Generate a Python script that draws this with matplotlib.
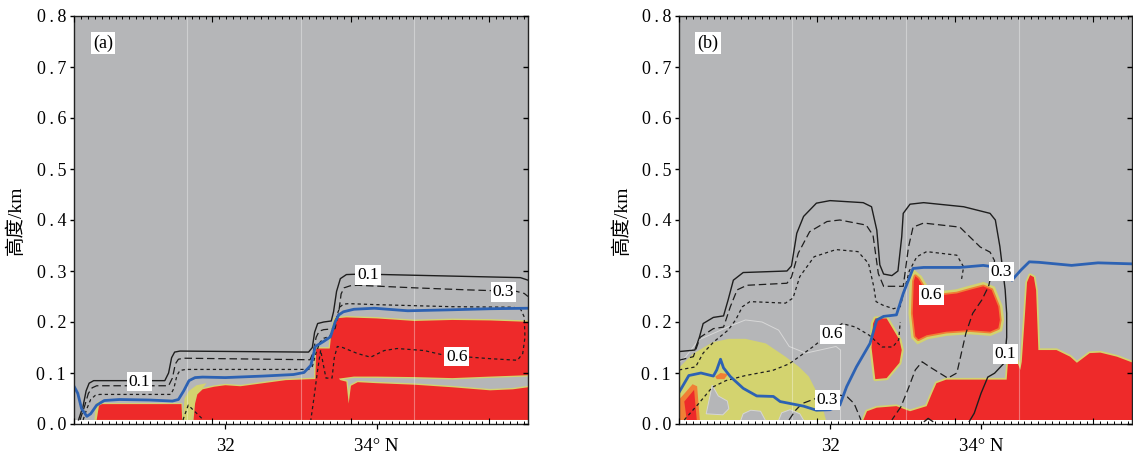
import numpy as np
import matplotlib
matplotlib.use("Agg")
import matplotlib.pyplot as plt

plt.rcParams['font.family'] = ['Liberation Serif', 'Noto Sans CJK SC']
plt.rcParams['axes.linewidth'] = 1.0

# ------------------------------------------------------------------
# Axis data
y_ticks = [0.0, 0.1, 0.2, 0.3, 0.4, 0.5, 0.6, 0.7, 0.8]
y_ticklabels = ['0\u2009.\u20090', '0\u2009.\u20091', '0\u2009.\u20092', '0\u2009.\u20093',
                '0\u2009.\u20094', '0\u2009.\u20095', '0\u2009.\u20096', '0\u2009.\u20097',
                '0\u2009.\u20098']
x_ticks = [32, 34]
x_ticklabels = ['32', '34\u00b0 N']
grid_lat = [31.5, 33.0, 34.5]
inner_major_lat = [30.0, 31.83, 33.66, 35.49]
inner_minor_step = 0.0915
panel_labels = ['(a)', '(b)']
ylabel_text = '高度/km'

# ------------------------------------------------------------------
# Panel (a)
a_c1_lat = [30.06, 30.12, 30.16, 30.2, 30.26, 31.2, 31.25, 31.29, 31.33, 31.4, 33.1, 33.15, 33.18,
            33.22, 33.3, 33.4, 33.43, 33.47, 33.52, 33.6, 33.8, 35.9, 36.0]
a_c1_h = [0.008, 0.035, 0.065, 0.08, 0.085, 0.085, 0.1, 0.13, 0.141, 0.143, 0.141, 0.15, 0.18,
          0.197, 0.2, 0.202, 0.22, 0.26, 0.285, 0.293, 0.294, 0.287, 0.282]
a_c3_lat = [30.08, 30.14, 30.19, 30.24, 30.3, 31.25, 31.3, 31.34, 31.38, 31.45, 33.12, 33.16, 33.2,
            33.24, 33.3, 33.45, 33.5, 33.53, 33.57, 33.65, 33.75, 34.5, 35.2, 35.85, 35.95, 36.0]
a_c3_h = [0.008, 0.035, 0.06, 0.071, 0.075, 0.075, 0.09, 0.118, 0.127, 0.129, 0.126, 0.14, 0.17,
          0.182, 0.185, 0.187, 0.22, 0.255, 0.267, 0.271, 0.272, 0.267, 0.263, 0.26, 0.256, 0.25]
a_c6_lat = [30.12, 30.17, 30.22, 30.28, 30.34, 31.28, 31.32, 31.36, 31.4, 31.48, 33.1, 33.15, 33.2,
            33.25, 33.3, 33.38, 33.44, 33.49, 33.52, 33.56, 33.63, 34.0, 35.0, 35.8, 35.9, 35.95,
            35.96, 35.93, 35.86, 35.51, 35.24, 34.89, 34.63, 34.27, 34.1, 33.92, 33.75, 33.55, 33.48,
            33.44, 33.41, 33.33, 33.29, 33.26, 33.22, 33.17, 33.13]
a_c6_h = [0.008, 0.03, 0.048, 0.056, 0.058, 0.058, 0.07, 0.095, 0.105, 0.107, 0.107, 0.113, 0.14,
          0.16, 0.168, 0.172, 0.19, 0.22, 0.23, 0.235, 0.236, 0.234, 0.23, 0.229, 0.226, 0.21,
          0.17, 0.138, 0.125, 0.128, 0.131, 0.135, 0.144, 0.148, 0.144, 0.131, 0.138, 0.15, 0.152,
          0.13, 0.09, 0.09, 0.12, 0.145, 0.106, 0.05, 0.008]
a_c6v_lat = [31.44, 31.51, 31.71]
a_c6v_h = [0.008, 0.037, 0.008]
a_blue_lat = [30.0, 30.05, 30.1, 30.17, 30.22, 30.3, 30.4, 30.6, 31.0, 31.3, 31.38, 31.45, 31.52,
              31.6, 31.7, 32.0, 32.5, 32.9, 33.04, 33.13, 33.19, 33.3, 33.39, 33.45, 33.5, 33.56,
              33.7, 33.97, 34.41, 35.0, 35.5, 36.0]
a_blue_h = [0.074, 0.06, 0.03, 0.015, 0.02, 0.037, 0.046, 0.048, 0.047, 0.045, 0.048, 0.065, 0.085,
            0.091, 0.092, 0.091, 0.094, 0.097, 0.101, 0.115, 0.152, 0.162, 0.171, 0.2, 0.214, 0.22,
            0.225, 0.227, 0.222, 0.224, 0.226, 0.227]
a_red1_lat = [30.3, 30.33, 30.37, 31.42, 31.43]
a_red1_h = [0.008, 0.036, 0.039, 0.039, 0.008]
a_red2_lat = [31.58, 31.6, 31.63, 31.7, 31.85, 32.0, 32.2, 32.5, 32.8, 33.15, 33.19, 33.2, 33.38,
              33.4, 33.45, 33.6, 34.0, 34.5, 35.0, 35.5, 36.05, 36.05, 35.5, 35.0, 34.5, 34.0, 33.7,
              33.55, 33.5, 33.52, 33.6, 33.63, 33.66, 33.75, 34.0, 34.5, 35.0, 35.5, 35.8, 36.05,
              36.05]
a_red2_h = [0.008, 0.04, 0.058, 0.068, 0.073, 0.076, 0.074, 0.08, 0.086, 0.088, 0.088, 0.148, 0.148,
            0.175, 0.207, 0.209, 0.207, 0.202, 0.204, 0.203, 0.2, 0.096, 0.093, 0.09, 0.092, 0.093,
            0.093, 0.09, 0.089, 0.086, 0.083, 0.04, 0.075, 0.082, 0.08, 0.077, 0.072, 0.066, 0.068,
            0.073, 0.008]
a_yel1_lat = [31.44, 31.46, 31.52, 31.62, 31.75, 31.6, 31.56]
a_yel1_h = [0.008, 0.05, 0.065, 0.076, 0.08, 0.05, 0.008]
a_yel2_lat = [30.27, 30.29, 30.33, 30.35]
a_yel2_h = [0.008, 0.04, 0.045, 0.008]
a_labels_txt = ['0.1', '0.1', '0.3', '0.6']
a_labels_lat = [30.86, 33.885, 35.67, 35.06]
a_labels_h = [0.083, 0.292, 0.259, 0.132]

# ------------------------------------------------------------------
# Panel (b)
b_c1_lat = [30.0, 30.21, 30.27, 30.32, 30.455, 30.59, 30.65, 30.72, 30.85, 31.43, 31.49, 31.56,
            31.65, 31.82, 32.0, 32.44, 32.55, 32.62, 32.66, 32.71, 32.82, 32.9, 32.95, 32.97, 33.06,
            33.24, 33.77, 34.12, 34.19, 34.25, 34.32, 34.34, 34.34, 34.31, 34.18, 34.09, 34.0,
            33.91, 33.845]
b_c1_h = [0.142, 0.145, 0.17, 0.197, 0.209, 0.212, 0.243, 0.282, 0.297, 0.3, 0.31, 0.374, 0.407,
          0.433, 0.438, 0.434, 0.426, 0.38, 0.312, 0.294, 0.291, 0.3, 0.367, 0.413, 0.431, 0.434,
          0.426, 0.413, 0.4, 0.348, 0.263, 0.217, 0.17, 0.12, 0.0996, 0.092, 0.06, 0.021, 0.005]
b_c1s_lat = [33.25, 33.3, 33.36]
b_c1s_h = [0.005, 0.011, 0.005]
b_c3_lat = [30.0, 30.19, 30.28, 30.455, 30.59, 30.68, 30.77, 30.9, 31.43, 31.49, 31.58, 31.73,
            31.96, 32.13, 32.48, 32.57, 32.64, 32.71, 32.97, 33.04, 33.1, 33.24, 33.72, 33.99, 34.12,
            34.18, 34.1, 34.01, 33.89, 33.8, 33.68, 33.56, 33.32, 33.22, 33.13, 33.03, 32.94, 32.82]
b_c3_h = [0.125, 0.132, 0.17, 0.187, 0.19, 0.23, 0.263, 0.272, 0.276, 0.288, 0.335, 0.377, 0.397,
          0.4, 0.39, 0.37, 0.295, 0.27, 0.27, 0.347, 0.386, 0.394, 0.386, 0.347, 0.337, 0.32, 0.27,
          0.243, 0.217, 0.178, 0.1, 0.09, 0.112, 0.122, 0.106, 0.067, 0.034, 0.008]
b_c3b_lat = [31.457, 31.545, 31.63, 31.81, 32.12, 32.23, 32.32, 32.41]
b_c3b_h = [0.008, 0.027, 0.04, 0.05, 0.057, 0.053, 0.04, 0.008]
b_c6_lat = [30.0, 30.22, 30.32, 30.46, 30.65, 30.75, 30.84, 30.94, 31.41, 31.51, 31.6, 31.79, 32.08,
            32.37, 32.51, 32.58, 32.61, 32.7, 32.84, 32.93, 32.98, 33.05, 33.15, 33.28, 33.68,
            33.77, 33.74]
b_c6_h = [0.106, 0.112, 0.139, 0.161, 0.184, 0.204, 0.23, 0.24, 0.237, 0.247, 0.289, 0.328, 0.342,
          0.338, 0.315, 0.269, 0.24, 0.233, 0.226, 0.23, 0.26, 0.3, 0.328, 0.338, 0.331, 0.308,
          0.282]
b_c6b_lat = [30.07, 30.26, 30.44, 30.62, 30.88, 31.24, 31.46, 31.77, 32.16, 32.34, 32.52, 32.69,
             32.83, 32.91, 32.93]
b_c6b_h = [0.008, 0.04, 0.072, 0.085, 0.095, 0.105, 0.118, 0.151, 0.197, 0.19, 0.174, 0.151, 0.151,
           0.165, 0.2]
b_wline_lat = [30.0, 30.09, 30.26, 30.66, 30.88, 31.1, 31.32, 31.46, 31.68, 32.08, 32.14, 32.14]
b_wline_h = [0.12, 0.132, 0.165, 0.191, 0.204, 0.2, 0.184, 0.152, 0.139, 0.152, 0.145, 0.008]
b_blue_lat = [30.0, 30.13, 30.29, 30.455, 30.5, 30.55, 30.59, 30.68, 30.85, 31.03, 31.25, 31.34,
              31.65, 31.82, 32.0, 32.13, 32.22, 32.35, 32.53, 32.62, 32.71, 32.88, 32.97, 33.1,
              33.24, 33.72, 34.03, 34.27, 34.37, 34.41, 34.53, 34.64, 34.77, 35.2, 35.55, 36.0]
b_blue_h = [0.062, 0.095, 0.1, 0.094, 0.106, 0.127, 0.11, 0.093, 0.07, 0.055, 0.054, 0.044, 0.035,
            0.027, 0.028, 0.037, 0.073, 0.112, 0.158, 0.204, 0.211, 0.214, 0.256, 0.305, 0.307,
            0.307, 0.311, 0.306, 0.296, 0.282, 0.302, 0.318, 0.317, 0.311, 0.316, 0.314]
b_yel_lat = [29.95, 29.95, 30.18, 30.44, 30.66, 30.88, 31.15, 31.41, 31.59, 31.72, 31.81, 31.9, 31.96]
b_yel_h = [0.0, 0.103, 0.137, 0.16, 0.167, 0.167, 0.158, 0.132, 0.112, 0.093, 0.067, 0.034, 0.0]
b_gray1_lat = [30.36, 30.44, 30.52, 30.64, 30.66, 30.58]
b_gray1_h = [0.02, 0.076, 0.055, 0.045, 0.03, 0.018]
b_gray2_lat = [30.8, 30.85, 30.95, 31.08, 31.17]
b_gray2_h = [0.0, 0.02, 0.027, 0.025, 0.0]
b_gray3_lat = [31.3, 31.36, 31.47, 31.6, 31.68]
b_gray3_h = [0.0, 0.022, 0.028, 0.02, 0.0]
b_ora1_lat = [29.95, 29.95, 30.05, 30.18, 30.24, 30.28]
b_ora1_h = [0.0, 0.04, 0.056, 0.078, 0.074, 0.0]
b_red1_lat = [30.11, 30.07, 30.2, 30.24]
b_red1_h = [0.0, 0.044, 0.067, 0.0]
b_ora2_lat = [30.48, 30.55, 30.65, 30.6, 30.5]
b_ora2_h = [0.093, 0.1, 0.098, 0.088, 0.088]
b_red2_lat = [32.6, 32.75, 32.92, 32.95, 32.92, 32.75, 32.6, 32.55, 32.57]
b_red2_h = [0.207, 0.207, 0.165, 0.145, 0.12, 0.09, 0.088, 0.15, 0.197]
b_red3_lat = [33.13, 33.17, 33.24, 33.3, 33.5, 33.68, 33.85, 34.03, 34.14, 34.23, 34.25, 34.23,
              34.12, 33.85, 33.54, 33.28, 33.17, 33.13, 33.095, 33.11]
b_red3_h = [0.29, 0.285, 0.268, 0.255, 0.253, 0.256, 0.263, 0.27, 0.263, 0.23, 0.204, 0.188, 0.181,
            0.184, 0.181, 0.174, 0.166, 0.172, 0.217, 0.28]
b_red4_lat = [32.42, 32.49, 32.62, 32.88, 33.06, 33.28, 33.35, 33.41, 33.54, 34.34, 34.36, 34.47,
              34.52, 34.54, 34.58, 34.61, 34.65, 34.7, 34.73, 34.75, 34.76, 35.0, 35.18, 35.27,
              35.44, 35.58, 35.8, 36.05, 36.05]
b_red4_h = [0.0, 0.025, 0.032, 0.035, 0.025, 0.035, 0.06, 0.08, 0.087, 0.087, 0.126, 0.126, 0.106,
            0.122, 0.21, 0.278, 0.292, 0.288, 0.262, 0.185, 0.145, 0.145, 0.132, 0.12, 0.139, 0.14,
            0.132, 0.118, 0.0]
b_labels_txt = ['0.6', '0.3', '0.6', '0.3', '0.1']
b_labels_lat = [32.03, 31.964, 33.34, 34.27, 34.32]
b_labels_h = [0.176, 0.047, 0.253, 0.299, 0.137]

# ------------------------------------------------------------------
BG = '#b5b6b8'
RED = '#ee2a2a'
YEL = '#d3d36f'
ORA = '#f07f35'
BLUE = '#2d62b3'
LINE = '#1e1e1e'
LS_SOLID = '-'
LS_LONG = (0, (6, 3))
LS_SHORT = (0, (2.6, 2.4))

fig = plt.figure(figsize=(11.33, 4.57), dpi=100)
ax_a = fig.add_axes([74 / 1133, 33 / 457, 454 / 1133, 408 / 457])
ax_b = fig.add_axes([679 / 1133, 33 / 457, 453 / 1133, 408 / 457])


def halo_fill(ax, lat, h, face, halo=YEL, hw=3.5, z=2):
    ax.fill(lat, h, facecolor='none', edgecolor=halo, linewidth=hw, zorder=z, joinstyle='round')
    ax.fill(lat, h, facecolor=face, edgecolor='none', zorder=z + 0.1)


def style_axes(ax, label):
    ax.set_facecolor(BG)
    ax.set_xlim(30.0, 36.0)
    ax.set_ylim(0.0, 0.8)
    ax.axhspan(0.0, 0.008, color='white', zorder=6, lw=0)
    for g in grid_lat:
        ax.axvline(g, color='white', alpha=0.35, lw=0.8, zorder=4)
    ax.set_yticks(y_ticks)
    ax.set_yticklabels(y_ticklabels, fontsize=13)
    ax.set_xticks(x_ticks)
    ax.set_xticklabels(x_ticklabels, fontsize=13.5)
    ax.tick_params(axis='y', direction='out', length=3.2, width=1.0, pad=2.5, left=True, right=False)
    ax.tick_params(axis='x', direction='out', length=3.8, width=0.9, pad=6, bottom=True, top=False)
    # right inward ticks
    axr = ax.twinx()
    axr.set_ylim(0.0, 0.8)
    axr.set_yticks(y_ticks)
    axr.tick_params(axis='y', direction='in', length=3.8, width=1.0, labelright=False)
    # inner ticks along top and bottom
    axt = ax.twiny()
    axt.set_xlim(30.0, 36.0)
    minor = [30.0 + i * inner_minor_step for i in range(70) if 30.0 + i * inner_minor_step <= 36.0]
    axt.set_xticks(inner_major_lat)
    axt.set_xticks(minor, minor=True)
    axt.xaxis.set_ticks_position('both')
    axt.tick_params(axis='x', which='major', direction='in', length=4.0, width=0.8,
                    labeltop=False, labelbottom=False)
    axt.tick_params(axis='x', which='minor', direction='in', length=2.0, width=0.7)
    for s in list(axr.spines.values()) + list(axt.spines.values()):
        s.set_visible(False)
    for s in ax.spines.values():
        s.set_zorder(10)
        s.set_color('#222222')
    ax.text(0.064, 0.934, label, transform=ax.transAxes, fontsize=13, ha='center', va='center',
            zorder=12, bbox=dict(boxstyle='square,pad=0.12', fc='white', ec='none'))
    ax.set_ylabel(ylabel_text, fontsize=14)


def contour_labels(ax, txt, lat, h):
    for t, x, y in zip(txt, lat, h):
        ax.text(x, y, t, fontsize=12.5, ha='center', va='center', zorder=9,
                bbox=dict(boxstyle='square,pad=0.1', fc='white', ec='none'))


# ---- panel (a)
ax = ax_a
style_axes(ax, panel_labels[0])
ax.fill(a_yel2_lat, a_yel2_h, color=YEL, zorder=2, lw=0)
ax.fill(a_yel1_lat, a_yel1_h, color=YEL, zorder=2, lw=0)
halo_fill(ax, a_red1_lat, a_red1_h, RED, hw=1.5)
halo_fill(ax, a_red2_lat, a_red2_h, RED, hw=2.0)
ax.plot(a_c1_lat, a_c1_h, color=LINE, lw=1.0, ls=LS_SOLID, zorder=7)
ax.plot(a_c3_lat, a_c3_h, color=LINE, lw=0.9, ls=LS_LONG, zorder=7)
ax.plot(a_c6_lat, a_c6_h, color=LINE, lw=0.9, ls=LS_SHORT, zorder=7)
ax.plot(a_c6v_lat, a_c6v_h, color=LINE, lw=0.9, ls=LS_SHORT, zorder=7)
ax.plot(a_blue_lat, a_blue_h, color=BLUE, lw=2.0, zorder=8, solid_joinstyle='round')
contour_labels(ax, a_labels_txt, a_labels_lat, a_labels_h)
ax.yaxis.set_label_coords(-0.108, 0.5)

# ---- panel (b)
ax = ax_b
style_axes(ax, panel_labels[1])
ax.fill(b_yel_lat, b_yel_h, color=YEL, zorder=2, lw=0)
for glat, gh in [(b_gray1_lat, b_gray1_h), (b_gray2_lat, b_gray2_h), (b_gray3_lat, b_gray3_h)]:
    ax.fill(glat, gh, facecolor=BG, edgecolor='#d6d6d6', lw=0.7, zorder=2.5)
ax.plot(b_wline_lat, b_wline_h, color='#d8d8d8', lw=0.7, zorder=2.5)
ax.fill(b_ora1_lat, b_ora1_h, color=ORA, zorder=3, lw=0)
ax.fill(b_red1_lat, b_red1_h, color=RED, zorder=3.2, lw=0)
ax.fill(b_ora2_lat, b_ora2_h, color=ORA, zorder=3, lw=0)
halo_fill(ax, b_red2_lat, b_red2_h, RED, hw=3.0)
ax.fill(b_red3_lat, b_red3_h, facecolor='none', edgecolor=YEL, lw=6, zorder=2)
halo_fill(ax, b_red3_lat, b_red3_h, RED, halo=ORA, hw=2.5, z=2.2)
halo_fill(ax, b_red4_lat, b_red4_h, RED, hw=2.5)
ax.plot(b_c1_lat, b_c1_h, color=LINE, lw=1.0, ls=LS_SOLID, zorder=7)
ax.plot(b_c1s_lat, b_c1s_h, color=LINE, lw=1.0, ls=LS_SOLID, zorder=7)
ax.plot(b_c3_lat, b_c3_h, color=LINE, lw=0.9, ls=LS_LONG, zorder=7)
ax.plot(b_c3b_lat, b_c3b_h, color=LINE, lw=0.9, ls=LS_LONG, zorder=7)
ax.plot(b_c6_lat, b_c6_h, color=LINE, lw=0.9, ls=LS_SHORT, zorder=7)
ax.plot(b_c6b_lat, b_c6b_h, color=LINE, lw=0.9, ls=LS_SHORT, zorder=7)
ax.plot(b_blue_lat, b_blue_h, color=BLUE, lw=2.0, zorder=8, solid_joinstyle='round')
contour_labels(ax, b_labels_txt, b_labels_lat, b_labels_h)
ax.yaxis.set_label_coords(-0.106, 0.5)

fig.savefig('out.png', dpi=100)
